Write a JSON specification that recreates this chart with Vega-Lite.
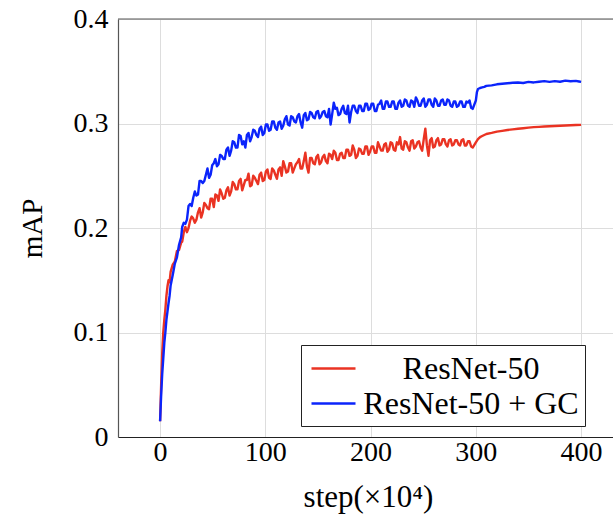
{
"$schema": "https://vega.github.io/schema/vega-lite/v6.json",
"width": 495, "height": 418,
"autosize": {"type": "none"},
"padding": {"left": 118, "top": 19, "right": 0, "bottom": 81},
"background": "white",
"config": {"view": {"stroke": null}, "font": "Liberation Serif"},
"datasets": {"curves": [
{"step":0,"mAP":0.015,"model":"ResNet-50"},{"step":1,"mAP":0.05,"model":"ResNet-50"},{"step":2,"mAP":0.08,"model":"ResNet-50"},{"step":3,"mAP":0.1,"model":"ResNet-50"},{"step":4,"mAP":0.112,"model":"ResNet-50"},{"step":5,"mAP":0.122,"model":"ResNet-50"},{"step":6,"mAP":0.135,"model":"ResNet-50"},{"step":7,"mAP":0.144,"model":"ResNet-50"},{"step":8,"mAP":0.15,"model":"ResNet-50"},{"step":9,"mAP":0.148,"model":"ResNet-50"},{"step":10,"mAP":0.158,"model":"ResNet-50"},{"step":12,"mAP":0.165,"model":"ResNet-50"},{"step":14,"mAP":0.168,"model":"ResNet-50"},{"step":16,"mAP":0.178,"model":"ResNet-50"},{"step":18,"mAP":0.179,"model":"ResNet-50"},{"step":20,"mAP":0.186,"model":"ResNet-50"},
{"step":21,"mAP":0.187,"model":"ResNet-50"},{"step":24,"mAP":0.201,"model":"ResNet-50"},{"step":27,"mAP":0.200,"model":"ResNet-50"},{"step":30,"mAP":0.211,"model":"ResNet-50"},{"step":33,"mAP":0.205,"model":"ResNet-50"},{"step":36,"mAP":0.215,"model":"ResNet-50"},{"step":39,"mAP":0.210,"model":"ResNet-50"},{"step":42,"mAP":0.224,"model":"ResNet-50"},{"step":45,"mAP":0.219,"model":"ResNet-50"},{"step":48,"mAP":0.228,"model":"ResNet-50"},{"step":51,"mAP":0.220,"model":"ResNet-50"},{"step":54,"mAP":0.231,"model":"ResNet-50"},{"step":57,"mAP":0.237,"model":"ResNet-50"},{"step":60,"mAP":0.228,"model":"ResNet-50"},{"step":63,"mAP":0.236,"model":"ResNet-50"},{"step":66,"mAP":0.231,"model":"ResNet-50"},{"step":69,"mAP":0.244,"model":"ResNet-50"},{"step":72,"mAP":0.237,"model":"ResNet-50"},{"step":75,"mAP":0.245,"model":"ResNet-50"},{"step":78,"mAP":0.236,"model":"ResNet-50"},{"step":81,"mAP":0.246,"model":"ResNet-50"},{"step":84,"mAP":0.252,"model":"ResNet-50"},{"step":87,"mAP":0.241,"model":"ResNet-50"},{"step":90,"mAP":0.248,"model":"ResNet-50"},{"step":93,"mAP":0.242,"model":"ResNet-50"},{"step":96,"mAP":0.253,"model":"ResNet-50"},{"step":99,"mAP":0.246,"model":"ResNet-50"},{"step":102,"mAP":0.256,"model":"ResNet-50"},{"step":105,"mAP":0.247,"model":"ResNet-50"},{"step":108,"mAP":0.255,"model":"ResNet-50"},{"step":111,"mAP":0.247,"model":"ResNet-50"},{"step":114,"mAP":0.258,"model":"ResNet-50"},{"step":117,"mAP":0.264,"model":"ResNet-50"},{"step":120,"mAP":0.253,"model":"ResNet-50"},{"step":123,"mAP":0.262,"model":"ResNet-50"},{"step":126,"mAP":0.253,"model":"ResNet-50"},{"step":129,"mAP":0.261,"model":"ResNet-50"},{"step":132,"mAP":0.266,"model":"ResNet-50"},{"step":135,"mAP":0.257,"model":"ResNet-50"},{"step":138,"mAP":0.272,"model":"ResNet-50"},{"step":141,"mAP":0.253,"model":"ResNet-50"},{"step":144,"mAP":0.267,"model":"ResNet-50"},{"step":147,"mAP":0.261,"model":"ResNet-50"},{"step":150,"mAP":0.270,"model":"ResNet-50"},{"step":153,"mAP":0.263,"model":"ResNet-50"},{"step":156,"mAP":0.270,"model":"ResNet-50"},{"step":159,"mAP":0.262,"model":"ResNet-50"},{"step":162,"mAP":0.270,"model":"ResNet-50"},{"step":165,"mAP":0.274,"model":"ResNet-50"},{"step":168,"mAP":0.265,"model":"ResNet-50"},{"step":171,"mAP":0.271,"model":"ResNet-50"},{"step":174,"mAP":0.267,"model":"ResNet-50"},{"step":177,"mAP":0.275,"model":"ResNet-50"},{"step":180,"mAP":0.269,"model":"ResNet-50"},{"step":183,"mAP":0.279,"model":"ResNet-50"},{"step":186,"mAP":0.267,"model":"ResNet-50"},{"step":189,"mAP":0.276,"model":"ResNet-50"},{"step":192,"mAP":0.271,"model":"ResNet-50"},{"step":195,"mAP":0.278,"model":"ResNet-50"},{"step":198,"mAP":0.270,"model":"ResNet-50"},{"step":201,"mAP":0.278,"model":"ResNet-50"},{"step":204,"mAP":0.272,"model":"ResNet-50"},{"step":207,"mAP":0.282,"model":"ResNet-50"},{"step":210,"mAP":0.274,"model":"ResNet-50"},{"step":213,"mAP":0.280,"model":"ResNet-50"},{"step":216,"mAP":0.273,"model":"ResNet-50"},{"step":219,"mAP":0.282,"model":"ResNet-50"},{"step":222,"mAP":0.275,"model":"ResNet-50"},{"step":225,"mAP":0.282,"model":"ResNet-50"},{"step":228,"mAP":0.287,"model":"ResNet-50"},{"step":231,"mAP":0.275,"model":"ResNet-50"},{"step":234,"mAP":0.282,"model":"ResNet-50"},{"step":237,"mAP":0.274,"model":"ResNet-50"},{"step":240,"mAP":0.284,"model":"ResNet-50"},{"step":243,"mAP":0.278,"model":"ResNet-50"},{"step":246,"mAP":0.283,"model":"ResNet-50"},{"step":249,"mAP":0.274,"model":"ResNet-50"},{"step":252,"mAP":0.295,"model":"ResNet-50"},{"step":255,"mAP":0.269,"model":"ResNet-50"},{"step":258,"mAP":0.286,"model":"ResNet-50"},{"step":261,"mAP":0.278,"model":"ResNet-50"},{"step":264,"mAP":0.286,"model":"ResNet-50"},{"step":267,"mAP":0.280,"model":"ResNet-50"},{"step":270,"mAP":0.285,"model":"ResNet-50"},{"step":273,"mAP":0.278,"model":"ResNet-50"},{"step":276,"mAP":0.285,"model":"ResNet-50"},{"step":279,"mAP":0.280,"model":"ResNet-50"},{"step":282,"mAP":0.284,"model":"ResNet-50"},{"step":285,"mAP":0.279,"model":"ResNet-50"},{"step":288,"mAP":0.285,"model":"ResNet-50"},{"step":291,"mAP":0.279,"model":"ResNet-50"},{"step":294,"mAP":0.283,"model":"ResNet-50"},{"step":297,"mAP":0.277,"model":"ResNet-50"},
{"step":22.5,"mAP":0.196,"model":"ResNet-50"},{"step":25.5,"mAP":0.196,"model":"ResNet-50"},{"step":28.5,"mAP":0.207,"model":"ResNet-50"},{"step":31.5,"mAP":0.209,"model":"ResNet-50"},{"step":34.5,"mAP":0.208,"model":"ResNet-50"},{"step":37.5,"mAP":0.219,"model":"ResNet-50"},{"step":40.5,"mAP":0.215,"model":"ResNet-50"},{"step":43.5,"mAP":0.222,"model":"ResNet-50"},{"step":46.5,"mAP":0.218,"model":"ResNet-50"},{"step":49.5,"mAP":0.228,"model":"ResNet-50"},{"step":52.5,"mAP":0.232,"model":"ResNet-50"},{"step":55.5,"mAP":0.226,"model":"ResNet-50"},{"step":58.5,"mAP":0.233,"model":"ResNet-50"},{"step":61.5,"mAP":0.229,"model":"ResNet-50"},{"step":64.5,"mAP":0.239,"model":"ResNet-50"},{"step":67.5,"mAP":0.235,"model":"ResNet-50"},{"step":70.5,"mAP":0.242,"model":"ResNet-50"},{"step":73.5,"mAP":0.237,"model":"ResNet-50"},{"step":76.5,"mAP":0.247,"model":"ResNet-50"},{"step":79.5,"mAP":0.241,"model":"ResNet-50"},{"step":82.5,"mAP":0.246,"model":"ResNet-50"},{"step":85.5,"mAP":0.240,"model":"ResNet-50"},{"step":88.5,"mAP":0.250,"model":"ResNet-50"},{"step":91.5,"mAP":0.245,"model":"ResNet-50"},{"step":94.5,"mAP":0.251,"model":"ResNet-50"},{"step":97.5,"mAP":0.245,"model":"ResNet-50"},{"step":100.5,"mAP":0.254,"model":"ResNet-50"},{"step":103.5,"mAP":0.248,"model":"ResNet-50"},{"step":106.5,"mAP":0.257,"model":"ResNet-50"},{"step":109.5,"mAP":0.251,"model":"ResNet-50"},{"step":112.5,"mAP":0.256,"model":"ResNet-50"},{"step":115.5,"mAP":0.250,"model":"ResNet-50"},{"step":118.5,"mAP":0.259,"model":"ResNet-50"},{"step":121.5,"mAP":0.254,"model":"ResNet-50"},{"step":124.5,"mAP":0.262,"model":"ResNet-50"},{"step":127.5,"mAP":0.257,"model":"ResNet-50"},{"step":130.5,"mAP":0.263,"model":"ResNet-50"},{"step":133.5,"mAP":0.257,"model":"ResNet-50"},{"step":136.5,"mAP":0.264,"model":"ResNet-50"},{"step":139.5,"mAP":0.259,"model":"ResNet-50"},{"step":142.5,"mAP":0.267,"model":"ResNet-50"},{"step":145.5,"mAP":0.262,"model":"ResNet-50"},{"step":148.5,"mAP":0.268,"model":"ResNet-50"},{"step":151.5,"mAP":0.261,"model":"ResNet-50"},{"step":154.5,"mAP":0.268,"model":"ResNet-50"},{"step":157.5,"mAP":0.264,"model":"ResNet-50"},{"step":160.5,"mAP":0.271,"model":"ResNet-50"},{"step":163.5,"mAP":0.266,"model":"ResNet-50"},{"step":166.5,"mAP":0.272,"model":"ResNet-50"},{"step":169.5,"mAP":0.265,"model":"ResNet-50"},{"step":172.5,"mAP":0.272,"model":"ResNet-50"},{"step":175.5,"mAP":0.267,"model":"ResNet-50"},{"step":178.5,"mAP":0.275,"model":"ResNet-50"},{"step":181.5,"mAP":0.270,"model":"ResNet-50"},{"step":184.5,"mAP":0.275,"model":"ResNet-50"},{"step":187.5,"mAP":0.269,"model":"ResNet-50"},{"step":190.5,"mAP":0.275,"model":"ResNet-50"},{"step":193.5,"mAP":0.271,"model":"ResNet-50"},{"step":196.5,"mAP":0.278,"model":"ResNet-50"},{"step":199.5,"mAP":0.273,"model":"ResNet-50"},{"step":202.5,"mAP":0.278,"model":"ResNet-50"},{"step":205.5,"mAP":0.272,"model":"ResNet-50"},{"step":208.5,"mAP":0.278,"model":"ResNet-50"},{"step":211.5,"mAP":0.274,"model":"ResNet-50"},{"step":214.5,"mAP":0.281,"model":"ResNet-50"},{"step":217.5,"mAP":0.275,"model":"ResNet-50"},{"step":220.5,"mAP":0.281,"model":"ResNet-50"},{"step":223.5,"mAP":0.274,"model":"ResNet-50"},{"step":226.5,"mAP":0.280,"model":"ResNet-50"},{"step":229.5,"mAP":0.276,"model":"ResNet-50"},{"step":232.5,"mAP":0.283,"model":"ResNet-50"},{"step":235.5,"mAP":0.277,"model":"ResNet-50"},{"step":238.5,"mAP":0.283,"model":"ResNet-50"},{"step":241.5,"mAP":0.276,"model":"ResNet-50"},{"step":244.5,"mAP":0.282,"model":"ResNet-50"},{"step":247.5,"mAP":0.277,"model":"ResNet-50"},{"step":250.5,"mAP":0.285,"model":"ResNet-50"},{"step":253.5,"mAP":0.279,"model":"ResNet-50"},{"step":256.5,"mAP":0.284,"model":"ResNet-50"},{"step":259.5,"mAP":0.277,"model":"ResNet-50"},{"step":262.5,"mAP":0.284,"model":"ResNet-50"},{"step":265.5,"mAP":0.279,"model":"ResNet-50"},{"step":268.5,"mAP":0.285,"model":"ResNet-50"},{"step":271.5,"mAP":0.280,"model":"ResNet-50"},{"step":274.5,"mAP":0.284,"model":"ResNet-50"},{"step":277.5,"mAP":0.279,"model":"ResNet-50"},{"step":280.5,"mAP":0.284,"model":"ResNet-50"},{"step":283.5,"mAP":0.280,"model":"ResNet-50"},{"step":286.5,"mAP":0.284,"model":"ResNet-50"},{"step":289.5,"mAP":0.279,"model":"ResNet-50"},{"step":292.5,"mAP":0.283,"model":"ResNet-50"},{"step":295.5,"mAP":0.278,"model":"ResNet-50"},
{"step":300,"mAP":0.282,"model":"ResNet-50"},{"step":302,"mAP":0.285,"model":"ResNet-50"},{"step":304,"mAP":0.287,"model":"ResNet-50"},{"step":306,"mAP":0.288,"model":"ResNet-50"},{"step":308,"mAP":0.289,"model":"ResNet-50"},{"step":310,"mAP":0.290,"model":"ResNet-50"},{"step":315,"mAP":0.291,"model":"ResNet-50"},{"step":320,"mAP":0.2922,"model":"ResNet-50"},{"step":325,"mAP":0.293,"model":"ResNet-50"},{"step":330,"mAP":0.2938,"model":"ResNet-50"},{"step":335,"mAP":0.2944,"model":"ResNet-50"},{"step":340,"mAP":0.295,"model":"ResNet-50"},{"step":345,"mAP":0.2955,"model":"ResNet-50"},{"step":350,"mAP":0.296,"model":"ResNet-50"},{"step":355,"mAP":0.2965,"model":"ResNet-50"},{"step":360,"mAP":0.2968,"model":"ResNet-50"},{"step":365,"mAP":0.2971,"model":"ResNet-50"},{"step":370,"mAP":0.2974,"model":"ResNet-50"},{"step":375,"mAP":0.2976,"model":"ResNet-50"},{"step":380,"mAP":0.2979,"model":"ResNet-50"},{"step":385,"mAP":0.2981,"model":"ResNet-50"},{"step":390,"mAP":0.2983,"model":"ResNet-50"},{"step":395,"mAP":0.2985,"model":"ResNet-50"},{"step":400,"mAP":0.2987,"model":"ResNet-50"},
{"step":0,"mAP":0.015,"model":"ResNet-50 + GC"},{"step":1,"mAP":0.04,"model":"ResNet-50 + GC"},{"step":2,"mAP":0.06,"model":"ResNet-50 + GC"},{"step":3,"mAP":0.075,"model":"ResNet-50 + GC"},{"step":4,"mAP":0.09,"model":"ResNet-50 + GC"},{"step":5,"mAP":0.1,"model":"ResNet-50 + GC"},{"step":6,"mAP":0.112,"model":"ResNet-50 + GC"},{"step":7,"mAP":0.12,"model":"ResNet-50 + GC"},{"step":8,"mAP":0.128,"model":"ResNet-50 + GC"},{"step":9,"mAP":0.135,"model":"ResNet-50 + GC"},{"step":10,"mAP":0.145,"model":"ResNet-50 + GC"},{"step":12,"mAP":0.155,"model":"ResNet-50 + GC"},{"step":14,"mAP":0.166,"model":"ResNet-50 + GC"},{"step":16,"mAP":0.172,"model":"ResNet-50 + GC"},{"step":18,"mAP":0.184,"model":"ResNet-50 + GC"},{"step":20,"mAP":0.191,"model":"ResNet-50 + GC"},
{"step":21,"mAP":0.201,"model":"ResNet-50 + GC"},{"step":24,"mAP":0.204,"model":"ResNet-50 + GC"},{"step":27,"mAP":0.221,"model":"ResNet-50 + GC"},{"step":30,"mAP":0.221,"model":"ResNet-50 + GC"},{"step":33,"mAP":0.235,"model":"ResNet-50 + GC"},{"step":36,"mAP":0.232,"model":"ResNet-50 + GC"},{"step":39,"mAP":0.245,"model":"ResNet-50 + GC"},{"step":42,"mAP":0.245,"model":"ResNet-50 + GC"},{"step":45,"mAP":0.257,"model":"ResNet-50 + GC"},{"step":48,"mAP":0.251,"model":"ResNet-50 + GC"},{"step":51,"mAP":0.262,"model":"ResNet-50 + GC"},{"step":54,"mAP":0.259,"model":"ResNet-50 + GC"},{"step":57,"mAP":0.270,"model":"ResNet-50 + GC"},{"step":60,"mAP":0.266,"model":"ResNet-50 + GC"},{"step":63,"mAP":0.275,"model":"ResNet-50 + GC"},{"step":66,"mAP":0.269,"model":"ResNet-50 + GC"},{"step":69,"mAP":0.283,"model":"ResNet-50 + GC"},{"step":72,"mAP":0.277,"model":"ResNet-50 + GC"},{"step":75,"mAP":0.289,"model":"ResNet-50 + GC"},{"step":78,"mAP":0.280,"model":"ResNet-50 + GC"},{"step":81,"mAP":0.277,"model":"ResNet-50 + GC"},{"step":84,"mAP":0.291,"model":"ResNet-50 + GC"},{"step":87,"mAP":0.287,"model":"ResNet-50 + GC"},{"step":90,"mAP":0.293,"model":"ResNet-50 + GC"},{"step":93,"mAP":0.287,"model":"ResNet-50 + GC"},{"step":96,"mAP":0.297,"model":"ResNet-50 + GC"},{"step":99,"mAP":0.291,"model":"ResNet-50 + GC"},{"step":102,"mAP":0.299,"model":"ResNet-50 + GC"},{"step":105,"mAP":0.294,"model":"ResNet-50 + GC"},{"step":108,"mAP":0.302,"model":"ResNet-50 + GC"},{"step":111,"mAP":0.294,"model":"ResNet-50 + GC"},{"step":114,"mAP":0.302,"model":"ResNet-50 + GC"},{"step":117,"mAP":0.298,"model":"ResNet-50 + GC"},{"step":120,"mAP":0.307,"model":"ResNet-50 + GC"},{"step":123,"mAP":0.298,"model":"ResNet-50 + GC"},{"step":126,"mAP":0.306,"model":"ResNet-50 + GC"},{"step":129,"mAP":0.301,"model":"ResNet-50 + GC"},{"step":132,"mAP":0.309,"model":"ResNet-50 + GC"},{"step":135,"mAP":0.296,"model":"ResNet-50 + GC"},{"step":138,"mAP":0.310,"model":"ResNet-50 + GC"},{"step":141,"mAP":0.304,"model":"ResNet-50 + GC"},{"step":144,"mAP":0.310,"model":"ResNet-50 + GC"},{"step":147,"mAP":0.305,"model":"ResNet-50 + GC"},{"step":150,"mAP":0.312,"model":"ResNet-50 + GC"},{"step":153,"mAP":0.307,"model":"ResNet-50 + GC"},{"step":156,"mAP":0.312,"model":"ResNet-50 + GC"},{"step":159,"mAP":0.306,"model":"ResNet-50 + GC"},{"step":162,"mAP":0.299,"model":"ResNet-50 + GC"},{"step":165,"mAP":0.320,"model":"ResNet-50 + GC"},{"step":168,"mAP":0.315,"model":"ResNet-50 + GC"},{"step":171,"mAP":0.309,"model":"ResNet-50 + GC"},{"step":174,"mAP":0.317,"model":"ResNet-50 + GC"},{"step":177,"mAP":0.309,"model":"ResNet-50 + GC"},{"step":180,"mAP":0.301,"model":"ResNet-50 + GC"},{"step":183,"mAP":0.317,"model":"ResNet-50 + GC"},{"step":186,"mAP":0.312,"model":"ResNet-50 + GC"},{"step":189,"mAP":0.317,"model":"ResNet-50 + GC"},{"step":192,"mAP":0.312,"model":"ResNet-50 + GC"},{"step":195,"mAP":0.319,"model":"ResNet-50 + GC"},{"step":198,"mAP":0.313,"model":"ResNet-50 + GC"},{"step":201,"mAP":0.319,"model":"ResNet-50 + GC"},{"step":204,"mAP":0.312,"model":"ResNet-50 + GC"},{"step":207,"mAP":0.318,"model":"ResNet-50 + GC"},{"step":210,"mAP":0.322,"model":"ResNet-50 + GC"},{"step":213,"mAP":0.314,"model":"ResNet-50 + GC"},{"step":216,"mAP":0.321,"model":"ResNet-50 + GC"},{"step":219,"mAP":0.316,"model":"ResNet-50 + GC"},{"step":222,"mAP":0.321,"model":"ResNet-50 + GC"},{"step":225,"mAP":0.314,"model":"ResNet-50 + GC"},{"step":228,"mAP":0.322,"model":"ResNet-50 + GC"},{"step":231,"mAP":0.317,"model":"ResNet-50 + GC"},{"step":234,"mAP":0.322,"model":"ResNet-50 + GC"},{"step":237,"mAP":0.316,"model":"ResNet-50 + GC"},{"step":240,"mAP":0.321,"model":"ResNet-50 + GC"},{"step":243,"mAP":0.325,"model":"ResNet-50 + GC"},{"step":246,"mAP":0.317,"model":"ResNet-50 + GC"},{"step":249,"mAP":0.322,"model":"ResNet-50 + GC"},{"step":252,"mAP":0.316,"model":"ResNet-50 + GC"},{"step":255,"mAP":0.323,"model":"ResNet-50 + GC"},{"step":258,"mAP":0.318,"model":"ResNet-50 + GC"},{"step":261,"mAP":0.324,"model":"ResNet-50 + GC"},{"step":264,"mAP":0.317,"model":"ResNet-50 + GC"},{"step":267,"mAP":0.322,"model":"ResNet-50 + GC"},{"step":270,"mAP":0.318,"model":"ResNet-50 + GC"},{"step":273,"mAP":0.323,"model":"ResNet-50 + GC"},{"step":276,"mAP":0.317,"model":"ResNet-50 + GC"},{"step":279,"mAP":0.321,"model":"ResNet-50 + GC"},{"step":282,"mAP":0.316,"model":"ResNet-50 + GC"},{"step":285,"mAP":0.321,"model":"ResNet-50 + GC"},{"step":288,"mAP":0.316,"model":"ResNet-50 + GC"},{"step":291,"mAP":0.321,"model":"ResNet-50 + GC"},{"step":294,"mAP":0.322,"model":"ResNet-50 + GC"},{"step":297,"mAP":0.314,"model":"ResNet-50 + GC"},
{"step":22.5,"mAP":0.205,"model":"ResNet-50 + GC"},{"step":25.5,"mAP":0.208,"model":"ResNet-50 + GC"},{"step":28.5,"mAP":0.223,"model":"ResNet-50 + GC"},{"step":31.5,"mAP":0.229,"model":"ResNet-50 + GC"},{"step":34.5,"mAP":0.231,"model":"ResNet-50 + GC"},{"step":37.5,"mAP":0.245,"model":"ResNet-50 + GC"},{"step":40.5,"mAP":0.243,"model":"ResNet-50 + GC"},{"step":43.5,"mAP":0.251,"model":"ResNet-50 + GC"},{"step":46.5,"mAP":0.248,"model":"ResNet-50 + GC"},{"step":49.5,"mAP":0.260,"model":"ResNet-50 + GC"},{"step":52.5,"mAP":0.266,"model":"ResNet-50 + GC"},{"step":55.5,"mAP":0.261,"model":"ResNet-50 + GC"},{"step":58.5,"mAP":0.269,"model":"ResNet-50 + GC"},{"step":61.5,"mAP":0.266,"model":"ResNet-50 + GC"},{"step":64.5,"mAP":0.277,"model":"ResNet-50 + GC"},{"step":67.5,"mAP":0.274,"model":"ResNet-50 + GC"},{"step":70.5,"mAP":0.282,"model":"ResNet-50 + GC"},{"step":73.5,"mAP":0.277,"model":"ResNet-50 + GC"},{"step":76.5,"mAP":0.288,"model":"ResNet-50 + GC"},{"step":79.5,"mAP":0.283,"model":"ResNet-50 + GC"},{"step":82.5,"mAP":0.289,"model":"ResNet-50 + GC"},{"step":85.5,"mAP":0.283,"model":"ResNet-50 + GC"},{"step":88.5,"mAP":0.294,"model":"ResNet-50 + GC"},{"step":91.5,"mAP":0.289,"model":"ResNet-50 + GC"},{"step":94.5,"mAP":0.295,"model":"ResNet-50 + GC"},{"step":97.5,"mAP":0.289,"model":"ResNet-50 + GC"},{"step":100.5,"mAP":0.299,"model":"ResNet-50 + GC"},{"step":103.5,"mAP":0.293,"model":"ResNet-50 + GC"},{"step":106.5,"mAP":0.302,"model":"ResNet-50 + GC"},{"step":109.5,"mAP":0.296,"model":"ResNet-50 + GC"},{"step":112.5,"mAP":0.301,"model":"ResNet-50 + GC"},{"step":115.5,"mAP":0.295,"model":"ResNet-50 + GC"},{"step":118.5,"mAP":0.304,"model":"ResNet-50 + GC"},{"step":121.5,"mAP":0.299,"model":"ResNet-50 + GC"},{"step":124.5,"mAP":0.307,"model":"ResNet-50 + GC"},{"step":127.5,"mAP":0.302,"model":"ResNet-50 + GC"},{"step":130.5,"mAP":0.307,"model":"ResNet-50 + GC"},{"step":133.5,"mAP":0.301,"model":"ResNet-50 + GC"},{"step":136.5,"mAP":0.308,"model":"ResNet-50 + GC"},{"step":139.5,"mAP":0.303,"model":"ResNet-50 + GC"},{"step":142.5,"mAP":0.311,"model":"ResNet-50 + GC"},{"step":145.5,"mAP":0.306,"model":"ResNet-50 + GC"},{"step":148.5,"mAP":0.311,"model":"ResNet-50 + GC"},{"step":151.5,"mAP":0.305,"model":"ResNet-50 + GC"},{"step":154.5,"mAP":0.311,"model":"ResNet-50 + GC"},{"step":157.5,"mAP":0.307,"model":"ResNet-50 + GC"},{"step":160.5,"mAP":0.314,"model":"ResNet-50 + GC"},{"step":163.5,"mAP":0.309,"model":"ResNet-50 + GC"},{"step":166.5,"mAP":0.314,"model":"ResNet-50 + GC"},{"step":169.5,"mAP":0.308,"model":"ResNet-50 + GC"},{"step":172.5,"mAP":0.314,"model":"ResNet-50 + GC"},{"step":175.5,"mAP":0.310,"model":"ResNet-50 + GC"},{"step":178.5,"mAP":0.317,"model":"ResNet-50 + GC"},{"step":181.5,"mAP":0.311,"model":"ResNet-50 + GC"},{"step":184.5,"mAP":0.317,"model":"ResNet-50 + GC"},{"step":187.5,"mAP":0.310,"model":"ResNet-50 + GC"},{"step":190.5,"mAP":0.317,"model":"ResNet-50 + GC"},{"step":193.5,"mAP":0.312,"model":"ResNet-50 + GC"},{"step":196.5,"mAP":0.319,"model":"ResNet-50 + GC"},{"step":199.5,"mAP":0.314,"model":"ResNet-50 + GC"},{"step":202.5,"mAP":0.319,"model":"ResNet-50 + GC"},{"step":205.5,"mAP":0.312,"model":"ResNet-50 + GC"},{"step":208.5,"mAP":0.319,"model":"ResNet-50 + GC"},{"step":211.5,"mAP":0.314,"model":"ResNet-50 + GC"},{"step":214.5,"mAP":0.321,"model":"ResNet-50 + GC"},{"step":217.5,"mAP":0.316,"model":"ResNet-50 + GC"},{"step":220.5,"mAP":0.321,"model":"ResNet-50 + GC"},{"step":223.5,"mAP":0.314,"model":"ResNet-50 + GC"},{"step":226.5,"mAP":0.320,"model":"ResNet-50 + GC"},{"step":229.5,"mAP":0.316,"model":"ResNet-50 + GC"},{"step":232.5,"mAP":0.323,"model":"ResNet-50 + GC"},{"step":235.5,"mAP":0.317,"model":"ResNet-50 + GC"},{"step":238.5,"mAP":0.322,"model":"ResNet-50 + GC"},{"step":241.5,"mAP":0.316,"model":"ResNet-50 + GC"},{"step":244.5,"mAP":0.322,"model":"ResNet-50 + GC"},{"step":247.5,"mAP":0.317,"model":"ResNet-50 + GC"},{"step":250.5,"mAP":0.324,"model":"ResNet-50 + GC"},{"step":253.5,"mAP":0.318,"model":"ResNet-50 + GC"},{"step":256.5,"mAP":0.323,"model":"ResNet-50 + GC"},{"step":259.5,"mAP":0.316,"model":"ResNet-50 + GC"},{"step":262.5,"mAP":0.322,"model":"ResNet-50 + GC"},{"step":265.5,"mAP":0.317,"model":"ResNet-50 + GC"},{"step":268.5,"mAP":0.323,"model":"ResNet-50 + GC"},{"step":271.5,"mAP":0.318,"model":"ResNet-50 + GC"},{"step":274.5,"mAP":0.322,"model":"ResNet-50 + GC"},{"step":277.5,"mAP":0.316,"model":"ResNet-50 + GC"},{"step":280.5,"mAP":0.321,"model":"ResNet-50 + GC"},{"step":283.5,"mAP":0.317,"model":"ResNet-50 + GC"},{"step":286.5,"mAP":0.321,"model":"ResNet-50 + GC"},{"step":289.5,"mAP":0.316,"model":"ResNet-50 + GC"},{"step":292.5,"mAP":0.320,"model":"ResNet-50 + GC"},{"step":295.5,"mAP":0.315,"model":"ResNet-50 + GC"},
{"step":300,"mAP":0.322,"model":"ResNet-50 + GC"},{"step":301,"mAP":0.330,"model":"ResNet-50 + GC"},{"step":302,"mAP":0.333,"model":"ResNet-50 + GC"},{"step":304,"mAP":0.334,"model":"ResNet-50 + GC"},{"step":306,"mAP":0.3345,"model":"ResNet-50 + GC"},{"step":308,"mAP":0.335,"model":"ResNet-50 + GC"},{"step":310,"mAP":0.336,"model":"ResNet-50 + GC"},{"step":315,"mAP":0.3365,"model":"ResNet-50 + GC"},{"step":320,"mAP":0.3375,"model":"ResNet-50 + GC"},{"step":325,"mAP":0.338,"model":"ResNet-50 + GC"},{"step":330,"mAP":0.3385,"model":"ResNet-50 + GC"},{"step":335,"mAP":0.339,"model":"ResNet-50 + GC"},{"step":340,"mAP":0.3392,"model":"ResNet-50 + GC"},{"step":345,"mAP":0.3388,"model":"ResNet-50 + GC"},{"step":350,"mAP":0.3398,"model":"ResNet-50 + GC"},{"step":355,"mAP":0.3393,"model":"ResNet-50 + GC"},{"step":360,"mAP":0.34,"model":"ResNet-50 + GC"},{"step":365,"mAP":0.3405,"model":"ResNet-50 + GC"},{"step":370,"mAP":0.3398,"model":"ResNet-50 + GC"},{"step":375,"mAP":0.3405,"model":"ResNet-50 + GC"},{"step":380,"mAP":0.34,"model":"ResNet-50 + GC"},{"step":385,"mAP":0.341,"model":"ResNet-50 + GC"},{"step":390,"mAP":0.3404,"model":"ResNet-50 + GC"},{"step":395,"mAP":0.3408,"model":"ResNet-50 + GC"},{"step":398,"mAP":0.3402,"model":"ResNet-50 + GC"},{"step":400,"mAP":0.3398,"model":"ResNet-50 + GC"}
]},
"layer": [
{"data": {"name": "curves"},
 "mark": {"type": "line", "strokeWidth": 2.4, "strokeJoin": "round"},
 "encoding": {
  "x": {"field": "step", "type": "quantitative",
        "scale": {"domain": [-40, 430.3], "nice": false, "zero": false},
        "axis": {"values": [0, 100, 200, 300, 400], "format": "d", "labelFontSize": 28, "labelColor": "black", "labelPadding": 1,
                 "grid": true, "gridColor": "#dddddd", "gridWidth": 1, "ticks": false, "domainColor": "#222", "domainWidth": 1.2,
                 "title": "step(×10⁴)", "titleFontSize": 31, "titleFontWeight": "normal", "titleColor": "black", "titlePadding": 16, "titleX": 250}},
  "y": {"field": "mAP", "type": "quantitative",
        "scale": {"domain": [0, 0.4], "nice": false},
        "axis": {"values": [0, 0.1, 0.2, 0.3, 0.4], "labelExpr": "datum.value == 0 ? '0' : format(datum.value, '.1f')", "labelFontSize": 28, "labelColor": "black", "labelPadding": 10,
                 "grid": true, "gridColor": "#dddddd", "gridWidth": 1, "ticks": false, "domainColor": "#555", "domainWidth": 1.2,
                 "title": "mAP", "titleFontSize": 29, "titleFontWeight": "normal", "titleColor": "black", "titlePadding": 26}},
  "color": {"field": "model", "type": "nominal",
            "scale": {"domain": ["ResNet-50", "ResNet-50 + GC"], "range": ["#ea3323", "#0b24fb"]},
            "legend": {"orient": "none", "legendX": 183, "legendY": 326, "title": null, "symbolType": "M-1.375,0H1.375", "symbolSize": 1024, "symbolStrokeWidth": 2.5, "symbolOffset": 9,
                       "labelFont": "Liberation Serif", "labelFontSize": 32, "labelColor": "black", "labelAlign": "center", "labelOffset": 120, "labelLimit": 400,
                       "strokeColor": "#222", "fillColor": "white", "padding": 6, "rowPadding": 1}}
 }},
{"data": {"values": [{}]},
 "mark": {"type": "rule", "color": "#555", "strokeWidth": 1.2},
 "encoding": {"y": {"datum": 0.4}}}
]
}
